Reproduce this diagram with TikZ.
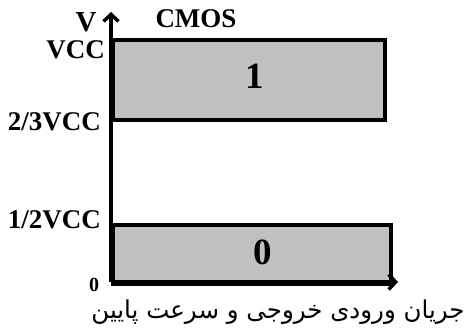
\documentclass[tikz,border=0pt]{standalone}
\usepackage{fontspec}
\setmainfont{Liberation Serif}
\newfontfamily\farsifont[Script=Arabic]{DejaVu Sans}
\TeXXeTstate=1
\usetikzlibrary{arrows.meta}
\definecolor{bandgray}{RGB}{192,192,192}
\tikzset{
  band/.style={draw=black, line width=3.5pt, fill=bandgray, inner sep=0pt, anchor=north west},
  axisline/.style={line width=4.5pt, -{Straight Barb[length=7pt,width=15pt,line width=3.5pt]}},
  lvl/.style={inner sep=0pt, font=\bfseries\fontsize{27}{27}\selectfont, anchor=base east},
  bit/.style={inner sep=0pt, font=\bfseries\fontsize{37}{37}\selectfont, anchor=base},
}
\begin{document}
\begin{tikzpicture}[x=1pt,y=-1pt]
\useasboundingbox (0,0) rectangle (471,327);
% logic-level bands
\node[band, minimum width=272pt, minimum height=80pt] (high) at (111,38) {};
\node[band, minimum width=278pt, minimum height=59pt] (low) at (111,223) {};
\node[bit] (one) at (255,88) {1};
\node[bit] (zero) at (263,264) {0};
% axes
\coordinate (O) at (111,282);
\coordinate (ytip) at (111,12);
\coordinate (xtip) at (398,282);
\draw[axisline] (O) -- (ytip);
\draw[axisline] (O) -- (xtip);
% labels
\node[inner sep=0pt, anchor=base, font=\bfseries\fontsize{29}{29}\selectfont] (vlab) at (86,31) {V};
\node[inner sep=0pt, anchor=base, font=\bfseries\fontsize{27}{27}\selectfont] (cmos) at (196,27) {CMOS};
\node[lvl] (vcc) at (105,58) {VCC};
\node[lvl] (vtwo) at (101,130) {2/3VCC};
\node[lvl] (vhalf) at (101,228) {1/2VCC};
\node[inner sep=0pt, anchor=base, font=\bfseries\fontsize{20}{20}\selectfont] (zlab) at (94,291) {0};
\node[font=\farsifont\fontsize{24.5}{24.5}\selectfont, inner sep=0pt] (cap) at (278,312)
  {\beginR جریان ورودی خروجی و سرعت پایین\endR};
\end{tikzpicture}
\end{document}
